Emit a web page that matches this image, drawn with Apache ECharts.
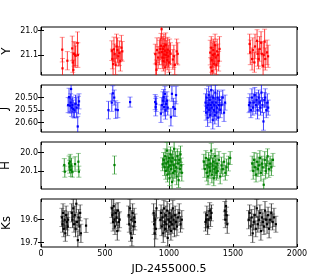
<!DOCTYPE html>
<html><head><meta charset="utf-8">
<script src="https://cdn.jsdelivr.net/npm/echarts@6/dist/echarts.min.js"></script>
<style>html,body{margin:0;padding:0;background:#fff}#c{width:330px;height:275px}</style>
</head><body><div id="c"></div>
<script>
// [day, magnitude, error]
const yBand = [
[166,21.078,0.050],[168,21.154,0.040],[206,21.123,0.037],[244,21.073,0.050],[248,21.130,0.040],[253,21.160,0.040],[258,21.095,0.050],[266,21.100,0.050],[271,21.103,0.040],[285,21.051,0.045],[288,21.100,0.050],
[553,21.082,0.040],[558,21.116,0.040],[563,21.137,0.050],[570,21.077,0.050],[576,21.095,0.040],[583,21.140,0.040],[590,21.065,0.050],[597,21.080,0.050],[604,21.105,0.040],[612,21.092,0.050],[620,21.125,0.040],[628,21.070,0.050],[635,21.085,0.040],
[893,21.096,0.040],[897,21.137,0.045],[902,21.160,0.040],[906,21.080,0.050],[915,21.110,0.045],[925,21.090,0.050],[932,21.075,0.045],[937,21.062,0.050],[942,20.995,0.040],[945,21.088,0.050],[948,21.110,0.045],[952,21.075,0.050],[956,21.125,0.040],[960,21.065,0.050],[963,21.098,0.045],[967,21.082,0.050],[970,21.150,0.040],[974,21.060,0.050],[978,21.100,0.045],[982,21.090,0.050],[986,21.120,0.040],[990,21.078,0.050],[995,21.105,0.045],[1000,21.130,0.040],[1005,21.085,0.050],[1012,21.095,0.045],[1030,21.118,0.040],[1038,21.105,0.045],[1045,21.140,0.040],[1060,21.085,0.050],[1068,21.095,0.045],
[1322,21.090,0.050],[1326,21.150,0.040],[1330,21.070,0.045],[1334,21.120,0.050],[1338,21.165,0.040],[1342,21.100,0.050],[1346,21.080,0.045],[1350,21.135,0.040],[1355,21.095,0.050],[1360,21.060,0.045],[1365,21.110,0.050],[1370,21.140,0.040],[1376,21.085,0.050],[1382,21.100,0.045],[1388,21.125,0.040],[1395,21.075,0.050],
[1630,21.055,0.040],[1635,21.089,0.050],[1649,21.116,0.045],[1655,21.080,0.050],[1667,21.130,0.040],[1672,21.065,0.050],[1688,21.042,0.045],[1692,21.095,0.050],[1700,21.116,0.040],[1708,21.075,0.050],[1719,21.050,0.045],[1725,21.095,0.050],[1735,21.143,0.040],[1740,21.100,0.050],[1747,21.045,0.050],[1752,21.116,0.045],[1766,21.089,0.050],[1774,21.105,0.045]
];
const jBand = [
[212,20.530,0.030],[219,20.498,0.035],[226,20.532,0.030],[232,20.520,0.035],[235,20.466,0.030],[240,20.540,0.035],[245,20.530,0.030],[252,20.545,0.035],[261,20.551,0.030],[270,20.525,0.035],[279,20.540,0.040],[287,20.615,0.040],[292,20.530,0.035],[297,20.515,0.030],
[527,20.550,0.035],[553,20.520,0.035],[561,20.483,0.030],[572,20.500,0.030],[584,20.548,0.035],[600,20.550,0.030],[696,20.518,0.020],
[892,20.518,0.030],[896,20.538,0.035],[900,20.525,0.030],[937,20.564,0.035],[945,20.530,0.030],[952,20.512,0.035],[958,20.498,0.030],[962,20.538,0.035],[968,20.485,0.030],[972,20.551,0.035],[978,20.525,0.030],[984,20.512,0.035],[990,20.540,0.030],[1015,20.578,0.035],[1023,20.485,0.030],[1034,20.538,0.035],[1047,20.545,0.030],[1055,20.490,0.035],
[1285,20.520,0.035],[1290,20.560,0.030],[1294,20.500,0.035],[1298,20.540,0.030],[1302,20.580,0.035],[1306,20.530,0.030],[1310,20.490,0.035],[1314,20.550,0.030],[1318,20.510,0.035],[1322,20.570,0.030],[1326,20.530,0.035],[1330,20.470,0.030],[1334,20.540,0.035],[1338,20.520,0.030],[1342,20.590,0.035],[1346,20.500,0.030],[1350,20.550,0.035],[1354,20.530,0.030],[1358,20.570,0.035],[1362,20.480,0.030],[1366,20.520,0.035],[1370,20.560,0.030],[1375,20.540,0.035],[1380,20.500,0.030],[1385,20.580,0.035],[1390,20.530,0.030],[1395,20.510,0.035],[1400,20.550,0.030],[1410,20.530,0.035],[1420,20.500,0.030],[1430,20.560,0.035],[1438,20.520,0.030],
[1625,20.530,0.030],[1632,20.520,0.035],[1640,20.550,0.030],[1648,20.500,0.035],[1655,20.540,0.030],[1662,20.520,0.035],[1670,20.490,0.030],[1678,20.530,0.035],[1685,20.510,0.030],[1692,20.550,0.035],[1700,20.500,0.030],[1708,20.520,0.035],[1715,20.540,0.030],[1722,20.480,0.035],[1730,20.530,0.030],[1738,20.595,0.035],[1745,20.510,0.030],[1752,20.500,0.035],[1760,20.550,0.030],[1768,20.520,0.035],[1775,20.540,0.030]
];
const hBand = [
[182,20.068,0.035],[186,20.104,0.030],[219,20.059,0.040],[223,20.077,0.035],[228,20.050,0.040],[233,20.095,0.035],[238,20.070,0.040],[245,20.104,0.030],[266,20.063,0.040],[292,20.050,0.045],[296,20.104,0.030],
[574,20.068,0.049],
[950,20.064,0.035],[958,20.040,0.040],[965,20.080,0.045],[970,20.020,0.040],[975,20.100,0.045],[980,20.060,0.040],[984,19.990,0.045],[988,20.120,0.040],[992,20.050,0.045],[996,20.080,0.040],[1000,20.030,0.045],[1004,20.140,0.040],[1008,20.070,0.045],[1012,20.010,0.040],[1016,20.090,0.045],[1020,20.050,0.040],[1024,20.160,0.045],[1028,20.030,0.040],[1032,20.110,0.045],[1036,20.070,0.040],[1040,19.980,0.045],[1045,20.100,0.040],[1050,20.040,0.045],[1055,20.080,0.040],[1060,20.130,0.045],[1065,20.020,0.040],[1070,20.060,0.045],[1075,20.150,0.040],[1080,20.040,0.045],[1085,20.090,0.040],[1090,20.010,0.045],[1095,20.070,0.040],[1100,20.110,0.045],
[1272,20.050,0.040],[1280,20.090,0.045],[1288,20.030,0.040],[1295,20.110,0.045],[1300,20.070,0.040],[1305,20.130,0.045],[1310,20.040,0.040],[1315,20.080,0.045],[1320,20.100,0.040],[1325,20.060,0.045],[1330,19.990,0.040],[1335,20.120,0.045],[1340,20.070,0.040],[1345,20.050,0.045],[1350,20.140,0.040],[1355,20.090,0.045],[1360,20.020,0.040],[1365,20.080,0.045],[1370,20.110,0.040],[1375,20.060,0.045],[1380,20.100,0.040],[1390,20.040,0.045],[1400,20.130,0.040],[1410,20.070,0.045],[1420,20.090,0.040],[1430,20.050,0.045],[1440,20.110,0.040],[1450,20.080,0.045],[1465,20.060,0.040],[1478,20.030,0.035],
[1650,20.060,0.040],[1658,20.100,0.045],[1665,20.040,0.040],[1672,20.080,0.045],[1680,20.120,0.040],[1688,20.050,0.045],[1695,20.090,0.040],[1702,20.070,0.045],[1710,20.030,0.040],[1718,20.110,0.045],[1725,20.060,0.040],[1732,20.080,0.045],[1740,20.175,0.030],[1748,20.040,0.045],[1755,20.100,0.040],[1762,20.070,0.045],[1770,20.020,0.040],[1780,20.090,0.045],[1790,20.060,0.040],[1800,20.080,0.045],[1812,20.040,0.035]
];
const kBand = [
[163,19.590,0.040],[168,19.620,0.035],[172,19.570,0.040],[178,19.640,0.035],[185,19.600,0.040],[190,19.660,0.035],[196,19.580,0.040],[202,19.610,0.035],[208,19.630,0.040],[212,19.600,0.035],
[240,19.570,0.040],[246,19.600,0.035],[252,19.550,0.040],[258,19.620,0.035],[264,19.580,0.040],[270,19.640,0.035],[276,19.530,0.040],[282,19.610,0.035],[288,19.690,0.040],[294,19.590,0.035],[300,19.630,0.040],[306,19.570,0.035],[312,19.660,0.040],
[352,19.626,0.030],
[553,19.550,0.040],[558,19.580,0.035],[563,19.610,0.040],[568,19.540,0.035],[573,19.600,0.040],[578,19.630,0.035],[584,19.570,0.040],[590,19.590,0.035],[596,19.650,0.040],[602,19.560,0.035],[608,19.610,0.040],[614,19.600,0.035],
[685,19.580,0.040],[690,19.620,0.035],[695,19.550,0.040],[700,19.660,0.035],[705,19.600,0.040],[710,19.680,0.035],[716,19.570,0.040],[722,19.630,0.035],[728,19.590,0.040],[734,19.610,0.035],
[880,19.570,0.040],[884,19.620,0.045],[888,19.660,0.080],[892,19.600,0.040],[897,19.640,0.045],[902,19.550,0.040],
[932,19.600,0.040],[938,19.570,0.035],[944,19.630,0.040],[950,19.590,0.035],[955,19.660,0.040],[960,19.550,0.035],[965,19.610,0.040],[970,19.640,0.035],[975,19.580,0.040],[980,19.620,0.035],[985,19.560,0.040],[990,19.680,0.035],[995,19.600,0.040],[1000,19.630,0.035],[1005,19.570,0.040],[1010,19.610,0.035],[1015,19.650,0.040],[1020,19.590,0.035],[1025,19.620,0.040],[1030,19.550,0.035],[1036,19.600,0.040],[1042,19.640,0.035],[1048,19.580,0.040],[1055,19.610,0.035],[1062,19.630,0.040],[1070,19.590,0.035],[1080,19.570,0.040],[1090,19.620,0.035],[1100,19.600,0.040],
[1285,19.610,0.040],[1290,19.600,0.035],[1296,19.580,0.040],[1302,19.630,0.035],[1310,19.600,0.040],[1318,19.560,0.035],[1325,19.590,0.040],[1332,19.570,0.035],
[1436,19.560,0.040],[1440,19.600,0.035],[1445,19.540,0.040],[1450,19.580,0.035],[1455,19.620,0.040],
[1622,19.600,0.040],[1630,19.570,0.035],[1638,19.630,0.040],[1646,19.590,0.035],[1654,19.660,0.040],[1662,19.610,0.035],[1670,19.580,0.040],[1678,19.640,0.035],[1686,19.550,0.040],[1694,19.620,0.035],[1702,19.600,0.040],[1710,19.570,0.035],[1718,19.650,0.040],[1726,19.590,0.035],[1734,19.610,0.040],[1742,19.630,0.035],[1750,19.560,0.040],[1758,19.600,0.035],[1766,19.620,0.040],[1774,19.580,0.035],[1782,19.640,0.040],[1790,19.600,0.035],[1800,19.570,0.040],[1810,19.610,0.035],[1820,19.590,0.040],[1835,19.620,0.035]
];
const xTicks = [0, 500, 1000, 1500, 2000];
const yTicks = [21.0, 21.1];
const jTicks = [20.50, 20.55, 20.60];
const hTicks = [20.0, 20.1];
const kTicks = [19.6, 19.7];

const bands = [
  {name:'Y',  data:yBand, ticks:yTicks, dec:1, min:20.986, max:21.181, color:'#ff0000', bar:'rgba(255,0,0,0.75)', cap:'rgba(255,0,0,0.4)', top:27,  height:48, gap:28},
  {name:'J',  data:jBand, ticks:jTicks, dec:2, min:20.450, max:20.637, color:'#0000ff', bar:'rgba(0,0,255,0.75)', cap:'rgba(0,0,255,0.4)', top:85,  height:47, gap:31},
  {name:'H',  data:hBand, ticks:hTicks, dec:1, min:19.943, max:20.198, color:'#008000', bar:'rgba(0,128,0,0.75)', cap:'rgba(0,128,0,0.4)', top:142, height:47, gap:29},
  {name:'Ks', data:kBand, ticks:kTicks, dec:1, min:19.509, max:19.720, color:'#000000', bar:'rgba(0,0,0,0.75)',   cap:'rgba(0,0,0,0.4)',   top:199, height:48, gap:28}
];
const FONT = 'DejaVu Sans';
const grid = [], xAxis = [], yAxis = [], series = [];
bands.forEach((b, i) => {
  grid.push({left:41, width:256, top:b.top, height:b.height, show:true, borderColor:'#000', borderWidth:1, backgroundColor:'transparent', outerBoundsMode:'none', containLabel:false});
  const last = i === bands.length - 1;
  xAxis.push({type:'value', gridIndex:i, position:'bottom', min:xTicks[0], max:xTicks[xTicks.length-1], interval:xTicks[1]-xTicks[0],
    axisLine:{show:false}, splitLine:{show:false},
    axisTick:{show:true, inside:true, length:3, lineStyle:{color:'#000'}},
    axisLabel:{show:last, color:'#000', fontSize:8, fontFamily:FONT, margin:3, formatter:v => String(v)},
    name: last ? 'JD-2455000.5' : '', nameLocation:'middle', nameGap:17, nameMoveOverlap:false,
    nameTextStyle:{color:'#000', fontSize:11, fontFamily:FONT}});
  xAxis.push({type:'value', gridIndex:i, position:'top', min:xTicks[0], max:xTicks[xTicks.length-1], interval:xTicks[1]-xTicks[0],
    axisLine:{show:false}, splitLine:{show:false},
    axisTick:{show:true, inside:true, length:3, lineStyle:{color:'#000'}}, axisLabel:{show:false}});
  yAxis.push({type:'value', gridIndex:i, position:'left', inverse:true, min:b.min, max:b.max,
    axisLine:{show:false}, splitLine:{show:false},
    axisTick:{show:true, inside:true, length:3, customValues:b.ticks, lineStyle:{color:'#000'}},
    axisLabel:{show:true, customValues:b.ticks, color:'#000', fontSize:8, fontFamily:FONT, margin:3,
      formatter:v => Number(v).toFixed(b.dec)},
    name:b.name, nameLocation:'middle', nameGap:b.gap, nameRotate:90, nameMoveOverlap:false,
    nameTextStyle:{color:'#000', fontSize:12, fontFamily:FONT}});
  yAxis.push({type:'value', gridIndex:i, position:'right', inverse:true, min:b.min, max:b.max,
    axisLine:{show:false}, splitLine:{show:false},
    axisTick:{show:true, inside:true, length:3, customValues:b.ticks, lineStyle:{color:'#000'}},
    axisLabel:{show:false}});
  series.push({type:'custom', xAxisIndex:2*i, yAxisIndex:2*i, clip:true, data:b.data,
    encode:{x:0, y:1},
    renderItem:(params, api) => {
      const x = api.value(0), y = api.value(1), e = api.value(2);
      const p = api.coord([x, y]), lo = api.coord([x, y - e]), hi = api.coord([x, y + e]);
      const cw = 2.5;
      return {type:'group', children:[
        {type:'line', shape:{x1:p[0], y1:lo[1], x2:p[0], y2:hi[1]}, style:{stroke:b.bar, lineWidth:1}},
        {type:'line', shape:{x1:p[0]-cw, y1:lo[1], x2:p[0]+cw, y2:lo[1]}, style:{stroke:b.cap, lineWidth:1}},
        {type:'line', shape:{x1:p[0]-cw, y1:hi[1], x2:p[0]+cw, y2:hi[1]}, style:{stroke:b.cap, lineWidth:1}},
        {type:'rect', shape:{x:p[0]-1.1, y:p[1]-1.1, width:2.2, height:2.2}, style:{fill:b.color}}
      ]};
    }});
});
const chart = echarts.init(document.getElementById('c'), null, {renderer:'canvas'});
chart.setOption({animation:false, backgroundColor:'#fff', grid, xAxis, yAxis, series});
</script></body></html>
